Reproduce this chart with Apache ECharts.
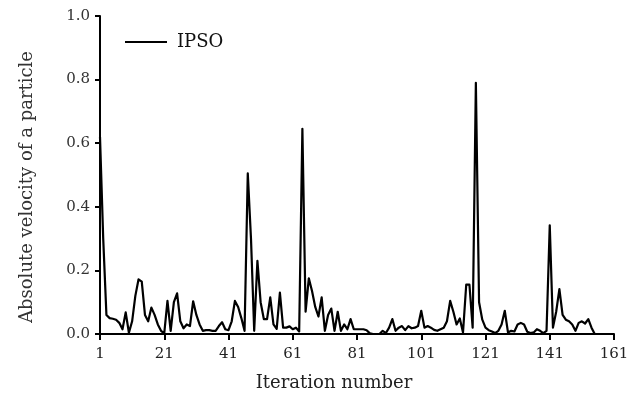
<!DOCTYPE html>
<html>
<head>
<meta charset="utf-8">
<script src="https://cdn.jsdelivr.net/npm/echarts@6/dist/echarts.min.js"></script>
<style>html,body{margin:0;padding:0;background:#fff}#c{width:636px;height:404px}</style>
</head>
<body>
<div id="c"></div>
<script>
// Iterations start at 1
var startIteration = 1;
var ipsoVelocity = [
  0.62, 0.30, 0.06, 0.05, 0.048, 0.045, 0.035, 0.015, 0.068, 0.004,
  0.04, 0.12, 0.172, 0.165, 0.06, 0.04, 0.083, 0.06, 0.03, 0.01,
  0.002, 0.104, 0.01, 0.10, 0.128, 0.04, 0.018, 0.03, 0.025, 0.103,
  0.06, 0.03, 0.01, 0.012, 0.012, 0.01, 0.01, 0.025, 0.037, 0.015,
  0.012, 0.04, 0.104, 0.085, 0.05, 0.01, 0.505, 0.30, 0.01, 0.23,
  0.10, 0.047, 0.047, 0.115, 0.03, 0.016, 0.13, 0.02, 0.02, 0.024,
  0.015, 0.02, 0.008, 0.645, 0.07, 0.175, 0.135, 0.085, 0.055, 0.115,
  0.01, 0.06, 0.08, 0.01, 0.07, 0.01, 0.03, 0.015, 0.047, 0.015,
  0.015, 0.015, 0.015, 0.012, 0.002, 0.0, 0.0, 0.0, 0.01, 0.003,
  0.02, 0.047, 0.01, 0.02, 0.025, 0.012, 0.025, 0.018, 0.02, 0.025,
  0.073, 0.02, 0.025, 0.02, 0.013, 0.01, 0.015, 0.02, 0.04, 0.104,
  0.07, 0.03, 0.049, 0.005, 0.155, 0.155, 0.02, 0.79, 0.10, 0.045,
  0.02, 0.012, 0.008, 0.003, 0.01, 0.03, 0.073, 0.005, 0.01, 0.008,
  0.03, 0.035, 0.03, 0.007, 0.003, 0.005, 0.015, 0.01, 0.003, 0.01,
  0.342, 0.02, 0.07, 0.141, 0.06, 0.045, 0.04, 0.03, 0.01, 0.035,
  0.04, 0.033, 0.047, 0.02, 0.0
];
var xTicks = [1, 21, 41, 61, 81, 101, 121, 141, 161];
var yTicks = [0.0, 0.2, 0.4, 0.6, 0.8, 1.0];
var seriesName = 'IPSO';
var xTitle = 'Iteration number';
var yTitle = 'Absolute velocity of a particle';

var points = ipsoVelocity.map(function (v, i) { return [startIteration + i, v]; });
var font = 'DejaVu Serif';
var chart = echarts.init(document.getElementById('c'), null, {renderer: 'canvas'});
chart.setOption({
  animation: false,
  backgroundColor: '#ffffff',
  grid: {left: 100, right: 22, top: 16, bottom: 70, containLabel: false},
  legend: {
    left: 120, top: 28,
    itemWidth: 42, itemHeight: 14,
    data: [{name: seriesName, icon: 'path://M0,6 L42,6 L42,8 L0,8 Z'}],
    textStyle: {fontFamily: font, fontSize: 18, color: '#111', padding: [0, 0, 0, 5]}
  },
  xAxis: {
    type: 'value', min: xTicks[0], max: xTicks[xTicks.length - 1], interval: 20,
    axisLine: {show: true, onZero: false, lineStyle: {color: '#000', width: 2}},
    axisTick: {show: true, inside: false, length: 6, lineStyle: {color: '#000', width: 2}},
    axisLabel: {margin: 13, fontFamily: font, fontSize: 15, color: '#222'},
    splitLine: {show: false}
  },
  yAxis: {
    type: 'value', min: yTicks[0], max: yTicks[yTicks.length - 1], interval: 0.2,
    axisLine: {show: true, lineStyle: {color: '#000', width: 2}},
    axisTick: {show: true, inside: false, length: 5, lineStyle: {color: '#000', width: 2}},
    axisLabel: {margin: 10, fontFamily: font, fontSize: 15, color: '#333',
      formatter: function (v) { return v.toFixed(1); }},
    splitLine: {show: false}
  },
  graphic: [
    {type: 'text', x: 334, y: 383,
      style: {text: xTitle, align: 'center', verticalAlign: 'middle',
        font: '18px "DejaVu Serif"', fill: '#222'}},
    {type: 'text', x: 27, y: 187, rotation: Math.PI / 2,
      style: {text: yTitle, align: 'center', verticalAlign: 'middle',
        font: '18px "DejaVu Serif"', fill: '#333'}}
  ],
  series: [{
    name: seriesName, type: 'line', data: points,
    symbol: 'none', smooth: false,
    lineStyle: {color: '#000', width: 2.2, join: 'round'},
    itemStyle: {color: '#000'}
  }]
});
</script>
</body>
</html>
